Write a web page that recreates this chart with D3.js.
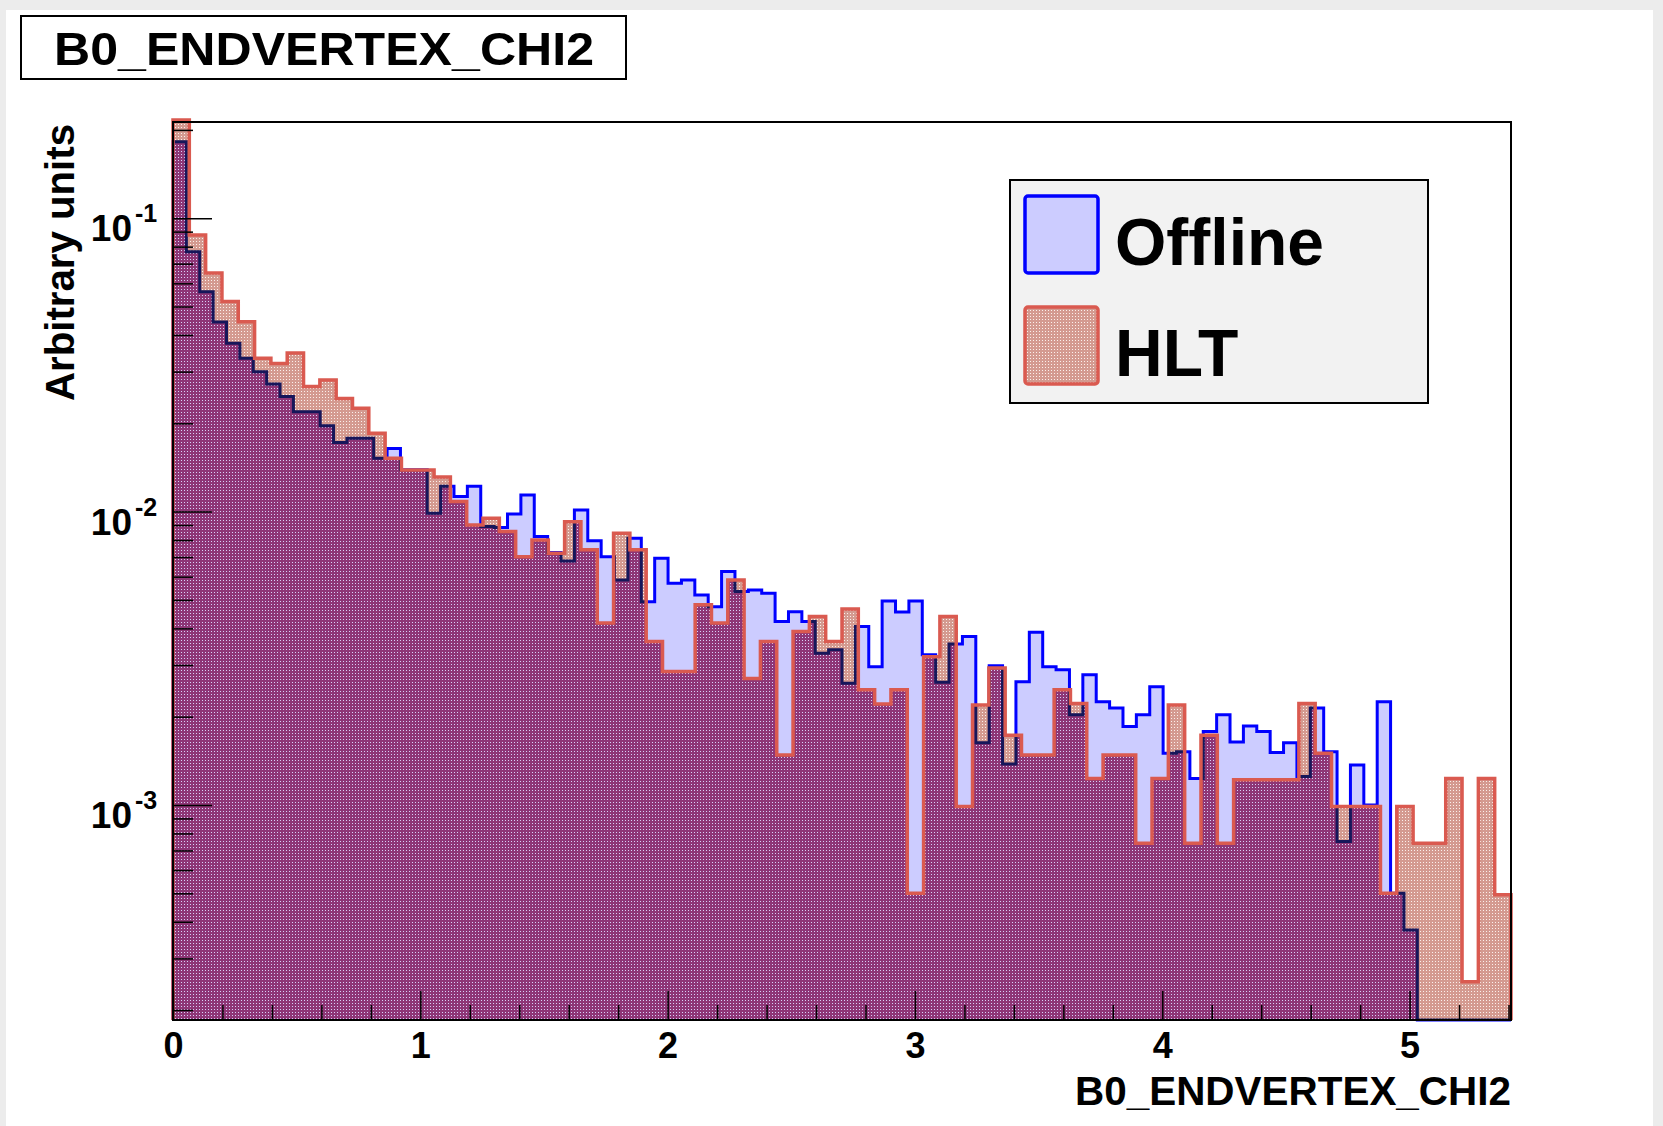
<!DOCTYPE html>
<html lang="en">
<head>
<meta charset="utf-8">
<title>B0_ENDVERTEX_CHI2</title>
<script src="https://d3js.org/d3.v7.min.js"></script>
<style>
  body { margin: 0; background: #ececec; }
  svg { display: block; font-family: "Liberation Sans", Arial, sans-serif; font-weight: bold; }
</style>
</head>
<body>
<div id="chart"></div>
<script>
// bin contents (normalised, arbitrary units)
const xMin = 0, xMax = 5.41;
const offline = [
  0.1824, 0.0769, 0.0562, 0.0443, 0.0375, 0.0333, 0.0300, 0.0272, 0.0247, 0.0219,
  0.0219, 0.0196, 0.0172, 0.0178, 0.0178, 0.0152, 0.0164, 0.0139, 0.0139, 0.00988,
  0.0122, 0.01125, 0.0122, 0.00889, 0.00883, 0.00982, 0.0114, 0.00822, 0.00726, 0.00679,
  0.01013, 0.00795, 0.00702, 0.00585, 0.00811, 0.00493, 0.00694, 0.00570, 0.00585, 0.00520,
  0.00474, 0.00625, 0.00534, 0.00541, 0.00527, 0.00422, 0.00456, 0.00422, 0.00329, 0.00338,
  0.00260, 0.00406, 0.00296, 0.00496, 0.00455, 0.00496, 0.00325, 0.00262, 0.00354, 0.00375,
  0.00163, 0.00298, 0.00138, 0.00263, 0.00388, 0.00296, 0.00289, 0.00203, 0.00278, 0.00225,
  0.00214, 0.00185, 0.00203, 0.00253, 0.00150, 0.00152, 0.00123, 0.00178, 0.00203, 0.00164,
  0.00186, 0.00178, 0.00151, 0.00163, 0.00125, 0.00214, 0.00152, 0.000751, 0.00137, 0.00100,
  0.00225, 0.000500, 0.000375, 0, 0, 0, 0, 0, 0, 0
];
const hlt = [
  0.2163, 0.0877, 0.0650, 0.0520, 0.0444, 0.0333, 0.0320, 0.0347, 0.0267, 0.0281,
  0.0243, 0.0225, 0.0185, 0.0152, 0.01387, 0.01387, 0.01313, 0.01082, 0.00901, 0.00950,
  0.00855, 0.00702, 0.00801, 0.00721, 0.00924, 0.00741, 0.00417, 0.00844, 0.00741, 0.00361,
  0.00285, 0.00285, 0.00481, 0.00417, 0.00585, 0.00270, 0.00361, 0.00148, 0.00390, 0.00439,
  0.00361, 0.00466, 0.00247, 0.00221, 0.00247, 0.000500, 0.00320, 0.00439, 0.000988, 0.00219,
  0.00293, 0.00173, 0.00148, 0.00148, 0.00247, 0.00222, 0.00123, 0.00148, 0.00148, 0.000741,
  0.00123, 0.00219, 0.000741, 0.00173, 0.000741, 0.00122, 0.00122, 0.00122, 0.00122, 0.00222,
  0.00150, 0.000988, 0.000988, 0.000988, 0.000500, 0.000988, 0.000741, 0.000741, 0.00123, 0.000250,
  0.00123, 0.000494
];
const xTicks = [0, 1, 2, 3, 4, 5];
const yDecades = [-3, -2, -1];
const legendNames = ["Offline", "HLT"];
const titleText = "B0_ENDVERTEX_CHI2";
const yTitle = "Arbitrary units";

const W = 1663, H = 1126;
const frame = {left: 173, right: 1511, top: 122, bottom: 1020};

const svg = d3.select("#chart").append("svg")
  .attr("width", W).attr("height", H);

// pad
svg.append("rect").attr("x", 6).attr("y", 10).attr("width", W - 16).attr("height", H - 10)
  .attr("fill", "#ffffff");

const defs = svg.append("defs");
function dotPattern(id, bg, dot) {
  const p = defs.append("pattern").attr("id", id)
    .attr("patternUnits", "userSpaceOnUse").attr("width", 3).attr("height", 3);
  p.append("rect").attr("width", 3).attr("height", 3).attr("fill", bg);
  p.append("rect").attr("x", 1).attr("y", 1).attr("width", 1).attr("height", 1).attr("fill", dot);
}
dotPattern("hltFill", "#d49a90", "#fbf0ec");
dotPattern("hltOverBlue", "#8e3676", "#d8d0f8");

const x = d3.scaleLinear().domain([xMin, xMax]).range([frame.left, frame.right]);
const y = d3.scaleLog().domain([1.85e-4, 0.2128]).range([frame.bottom, frame.top]);

function stepPoints(vals) {
  const w = (xMax - xMin) / vals.length;
  const pts = [[x(xMin), frame.bottom]];
  vals.forEach(function(v, i) {
    const yy = v > 0 ? y(v) : frame.bottom;
    pts.push([x(xMin + i * w), yy], [x(xMin + (i + 1) * w), yy]);
  });
  pts.push([x(xMax), frame.bottom]);
  return pts;
}
const line = d3.line();
const offPath = line(stepPoints(offline));
const hltPath = line(stepPoints(hlt));

defs.append("clipPath").attr("id", "offClip").append("path").attr("d", offPath + "Z");
defs.append("clipPath").attr("id", "hltClip").append("path").attr("d", hltPath + "Z");

const g = svg.append("g");
// Offline: solid lavender + blue line
g.append("path").attr("d", offPath + "Z").attr("fill", "#ccccff");
g.append("path").attr("d", offPath).attr("fill", "none")
  .attr("stroke", "#0000ff").attr("stroke-width", 3);
// HLT: dotted fill, darker where it sits over the Offline fill
g.append("path").attr("d", hltPath + "Z").attr("fill", "url(#hltFill)");
g.append("path").attr("d", hltPath + "Z").attr("fill", "url(#hltOverBlue)")
  .attr("clip-path", "url(#offClip)");
g.append("path").attr("d", offPath).attr("fill", "none")
  .attr("stroke", "#16165a").attr("stroke-width", 3).attr("clip-path", "url(#hltClip)");
g.append("path").attr("d", hltPath).attr("fill", "none")
  .attr("stroke", "#da5a50").attr("stroke-width", 3.5);

// frame
svg.append("rect").attr("x", frame.left).attr("y", frame.top)
  .attr("width", frame.right - frame.left).attr("height", frame.bottom - frame.top)
  .attr("fill", "none").attr("stroke", "#000").attr("stroke-width", 2);

// x axis ticks (inside the frame)
const xMinor = d3.range(0, 5.41, 0.2).filter(d => Math.abs(d - Math.round(d)) > 1e-6);
svg.append("g").attr("transform", `translate(0,${frame.bottom})`)
  .call(d3.axisBottom(x).tickValues(xMinor).tickSize(-15).tickSizeOuter(0).tickFormat(""))
  .call(a => a.select(".domain").remove());
svg.append("g").attr("transform", `translate(0,${frame.bottom})`)
  .call(d3.axisBottom(x).tickValues(xTicks).tickSize(-29).tickSizeOuter(0)
    .tickPadding(12).tickFormat(d3.format("d")))
  .call(a => a.select(".domain").remove())
  .call(a => a.selectAll("text").attr("font-size", 36).attr("font-weight", "bold")
    .attr("font-family", "'Liberation Sans', Arial, sans-serif").attr("fill", "#000"));
svg.selectAll(".tick line").attr("stroke", "#000").attr("stroke-width", 1.5);

// y axis ticks (log)
const yMinor = [];
[-4, -3, -2, -1].forEach(function(e) {
  for (let m = 2; m <= 9; m++) {
    const v = m * Math.pow(10, e);
    if (v >= y.domain()[0] && v <= y.domain()[1]) yMinor.push(v);
  }
});
svg.append("g").attr("transform", `translate(${frame.left},0)`)
  .call(d3.axisLeft(y).tickValues(yMinor).tickSize(-20).tickSizeOuter(0).tickFormat(""))
  .call(a => a.select(".domain").remove());
svg.append("g").attr("transform", `translate(${frame.left},0)`)
  .call(d3.axisLeft(y).tickValues(yDecades.map(e => Math.pow(10, e))).tickSize(-39)
    .tickSizeOuter(0).tickFormat(""))
  .call(a => a.select(".domain").remove());
svg.selectAll(".tick line").attr("stroke", "#000").attr("stroke-width", 1.5);

const yLab = svg.append("g");
yDecades.forEach(function(e) {
  const yy = y(Math.pow(10, e));
  yLab.append("text").attr("x", 132).attr("y", yy + 23).attr("text-anchor", "end")
    .attr("font-size", 37).text("10");
  yLab.append("text").attr("x", 135).attr("y", yy + 4).attr("font-size", 25).text("-" + (-e));
});

// axis titles
svg.append("text").attr("x", frame.right).attr("y", 1105).attr("text-anchor", "end")
  .attr("font-size", 40).attr("textLength", 436).attr("lengthAdjust", "spacingAndGlyphs")
  .text(titleText);
svg.append("text").attr("transform", "translate(74,124) rotate(-90)").attr("text-anchor", "end")
  .attr("font-size", 40).attr("textLength", 277).attr("lengthAdjust", "spacingAndGlyphs")
  .text(yTitle);

// title box
svg.append("rect").attr("x", 21).attr("y", 16).attr("width", 605).attr("height", 63)
  .attr("fill", "#fff").attr("stroke", "#000").attr("stroke-width", 2);
svg.append("text").attr("x", 54).attr("y", 65).attr("font-size", 47)
  .attr("textLength", 540).attr("lengthAdjust", "spacingAndGlyphs").text(titleText);

// legend
const leg = svg.append("g");
leg.append("rect").attr("x", 1010).attr("y", 180).attr("width", 418).attr("height", 223)
  .attr("fill", "#f2f2f2").attr("stroke", "#000").attr("stroke-width", 2);
const swatches = [
  {fill: "#ccccff", stroke: "#0000ff", y: 196},
  {fill: "url(#hltFill)", stroke: "#da5a50", y: 307}
];
swatches.forEach(function(s, i) {
  leg.append("rect").attr("x", 1025).attr("y", s.y).attr("width", 73).attr("height", 77)
    .attr("rx", 3).attr("fill", s.fill).attr("stroke", s.stroke).attr("stroke-width", 3.5);
  leg.append("text").attr("x", 1115).attr("y", s.y + 69).attr("font-size", 66)
    .text(legendNames[i]);
});
</script>
</body>
</html>
